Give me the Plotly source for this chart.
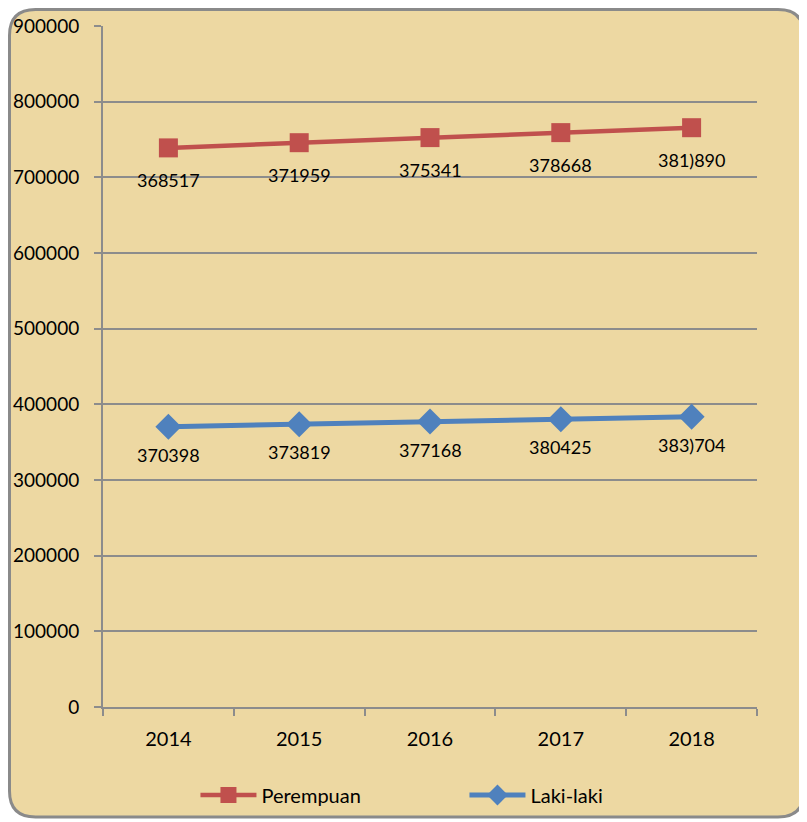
import plotly.graph_objects as go

years = ["2014", "2015", "2016", "2017", "2018"]
laki = [370398, 373819, 377168, 380425, 383704]
perempuan = [368517, 371959, 375341, 378668, 381890]
laki_labels = ["370398", "373819", "377168", "380425", "383)704"]
perempuan_labels = ["368517", "371959", "375341", "378668", "381)890"]

# the page body has an 8px margin, so the figure is placed at (8, 8)
OFF = 8
W, H = 807 - OFF, 822 - OFF
L, R, T, B = 103 - OFF, 807 - 757, 26 - OFF, 822 - 707
pw, ph = W - L - R, H - T - B

def px(x):  # screenshot x -> paper x
    return (x - OFF - L) / pw

def py(y):  # screenshot y -> paper y
    return (H - B - (y - OFF)) / ph

# rounded border path (screenshot coordinates)
x0, x1, y0, y1, r = 9.5, 804, 9.5, 817, 26
path = (
    f"M {px(x0 + r)} {py(y0)} L {px(x1 - r)} {py(y0)} "
    f"Q {px(x1)} {py(y0)} {px(x1)} {py(y0 + r)} "
    f"L {px(x1)} {py(y1 - r)} Q {px(x1)} {py(y1)} {px(x1 - r)} {py(y1)} "
    f"L {px(x0 + r)} {py(y1)} Q {px(x0)} {py(y1)} {px(x0)} {py(y1 - r)} "
    f"L {px(x0)} {py(y0 + r)} Q {px(x0)} {py(y0)} {px(x0 + r)} {py(y0)} Z"
)

fig = go.Figure()
fig.add_trace(go.Scatter(
    x=years, y=laki, name="Laki-laki", stackgroup="s", fill="none",
    mode="lines+markers",
    line=dict(color="#4F81BD", width=5),
    marker=dict(symbol="diamond", size=20, color="#4F81BD"),
))
fig.add_trace(go.Scatter(
    x=years, y=perempuan, name="Perempuan", stackgroup="s", fill="none",
    mode="lines+markers",
    line=dict(color="#C0504D", width=4.5),
    marker=dict(symbol="square", size=19, color="#C0504D"),
))

annotations = []
for i in range(len(years)):
    annotations.append(dict(x=i, y=laki[i], xref="x", yref="y", text=laki_labels[i],
                            showarrow=False, yshift=-28,
                            font=dict(family="Lato", size=18, color="#000000")))
    annotations.append(dict(x=i, y=laki[i] + perempuan[i], xref="x", yref="y",
                            text=perempuan_labels[i], showarrow=False, yshift=-32,
                            font=dict(family="Lato", size=18, color="#000000")))

fig.update_layout(
    width=W, height=H,
    margin=dict(l=L, r=R, t=T, b=B, autoexpand=False),
    paper_bgcolor="#FFFFFF",
    plot_bgcolor="rgba(0,0,0,0)",
    font=dict(family="Lato", size=20, color="#000000"),
    showlegend=True,
    legend=dict(orientation="h", x=px(202) - 0.01, xanchor="left", y=py(795), yanchor="middle",
                traceorder="reversed", font=dict(family="Lato", size=20),
                bgcolor="rgba(0,0,0,0)", itemwidth=56, entrywidth=198, entrywidthmode="pixels"),
    annotations=annotations,
    shapes=[dict(type="path", xref="paper", yref="paper", path=path,
                 fillcolor="#EDD8A2", line=dict(color="#8A8A8A", width=3), layer="below")],
)
fig.update_xaxes(
    type="category", range=[-0.5, 4.5], showgrid=False, automargin=False,
    showline=True, linecolor="#8C8C8C", linewidth=2,
    ticks="outside", tickson="boundaries", ticklen=7, tickcolor="#8C8C8C", tickwidth=2,
    tickfont=dict(family="Lato", size=20), ticklabelstandoff=13,
)
fig.update_yaxes(
    range=[0, 900000], dtick=100000, tickformat="d", automargin=False,
    showgrid=True, gridcolor="#8C8C8C", gridwidth=2,
    showline=True, linecolor="#8C8C8C", linewidth=2, zeroline=False,
    ticks="outside", ticklen=7, tickcolor="#8C8C8C", tickwidth=2,
    tickfont=dict(family="Lato", size=19), ticklabelstandoff=11,
)

fig.write_html("out.html")
